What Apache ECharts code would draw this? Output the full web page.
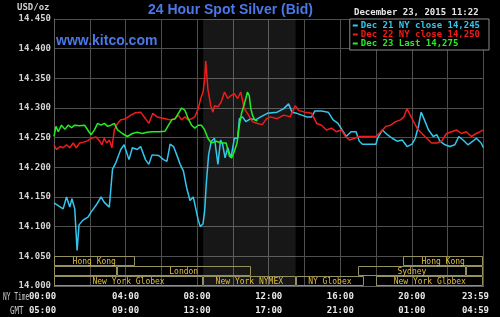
<!DOCTYPE html>
<html>
<head>
<meta charset="utf-8">
<script src="https://cdn.jsdelivr.net/npm/echarts@6/dist/echarts.min.js"></script>
<style>
html,body{margin:0;padding:0;background:#000;}
#chart{width:500px;height:317px;}
</style>
</head>
<body>
<div id="chart"></div>
<script>
// ---- Data (hours since NY midnight, price USD/oz) ----
const seriesNames = ['Dec 21 NY close 14,245', 'Dec 22 NY close 14,250', 'Dec 23 Last 14,275'];

const dec21Hours = [0,0.51,0.70,0.88,1.00,1.16,1.29,1.40,1.62,1.90,2.08,2.35,2.63,2.81,3.09,3.27,3.46,3.73,3.92,4.19,4.38,4.65,4.84,5.11,5.30,5.48,5.85,6.12,6.31,6.49,6.68,6.86,7.05,7.23,7.41,7.60,7.78,7.87,8.06,8.18,8.33,8.42,8.51,8.64,8.79,8.97,9.16,9.31,9.43,9.56,9.71,9.89,10.08,10.26,10.36,10.54,10.72,11.00,11.27,11.55,11.92,12.47,12.84,13.11,13.30,13.57,13.85,14.12,14.40,14.58,14.95,15.32,15.60,15.87,16.10,16.33,16.60,16.88,17.06,17.24,17.99,18.08,18.35,18.63,18.90,19.18,19.46,19.73,20.01,20.19,20.38,20.52,20.74,20.93,21.20,21.39,21.57,21.85,22.12,22.40,22.62,22.86,23.13,23.41,23.60,23.87,24.00];
const dec21Values = [14.140,14.130,14.150,14.133,14.147,14.130,14.060,14.103,14.111,14.116,14.125,14.136,14.150,14.141,14.133,14.197,14.208,14.230,14.238,14.213,14.233,14.230,14.235,14.213,14.205,14.221,14.220,14.213,14.210,14.239,14.235,14.221,14.205,14.194,14.166,14.144,14.150,14.138,14.111,14.100,14.105,14.127,14.172,14.221,14.244,14.249,14.205,14.246,14.238,14.216,14.233,14.216,14.249,14.249,14.282,14.285,14.277,14.282,14.280,14.285,14.291,14.293,14.299,14.307,14.293,14.291,14.288,14.285,14.285,14.295,14.295,14.293,14.280,14.274,14.263,14.252,14.260,14.260,14.244,14.239,14.239,14.249,14.263,14.255,14.249,14.244,14.246,14.235,14.239,14.249,14.271,14.293,14.277,14.263,14.252,14.255,14.244,14.238,14.235,14.238,14.252,14.246,14.238,14.244,14.249,14.241,14.233];

const dec22Hours = [0,0.15,0.33,0.51,0.70,0.88,1.07,1.25,1.43,1.62,1.90,2.08,2.35,2.54,2.68,2.81,2.94,3.09,3.24,3.37,3.55,3.73,4.01,4.29,4.56,4.84,5.11,5.30,5.52,5.76,6.21,6.49,6.77,6.95,7.13,7.32,7.50,7.69,7.87,8.06,8.20,8.33,8.42,8.48,8.60,8.76,8.88,8.97,9.16,9.34,9.53,9.71,9.89,10.08,10.26,10.44,10.63,10.81,11.09,11.37,11.64,11.88,12.10,12.47,12.84,13.20,13.48,13.67,14.03,14.40,14.68,14.95,15.23,15.50,15.78,16.06,16.29,16.51,16.79,17.06,17.99,18.26,18.54,18.81,19.09,19.37,19.55,19.73,19.86,20.01,20.29,20.56,20.83,21.10,21.39,21.66,21.94,22.22,22.49,22.77,23.04,23.32,23.60,23.87,24.00];
const dec22Values = [14.238,14.230,14.235,14.233,14.238,14.233,14.241,14.233,14.241,14.242,14.245,14.249,14.251,14.245,14.238,14.249,14.241,14.246,14.233,14.263,14.274,14.280,14.282,14.288,14.292,14.293,14.282,14.274,14.291,14.285,14.282,14.280,14.282,14.288,14.280,14.285,14.280,14.282,14.285,14.299,14.316,14.327,14.349,14.379,14.332,14.304,14.293,14.304,14.302,14.310,14.327,14.316,14.321,14.324,14.316,14.327,14.299,14.291,14.277,14.274,14.272,14.282,14.285,14.282,14.288,14.285,14.304,14.296,14.293,14.291,14.274,14.271,14.263,14.266,14.260,14.263,14.252,14.246,14.249,14.252,14.252,14.260,14.269,14.271,14.277,14.280,14.285,14.299,14.291,14.282,14.266,14.257,14.249,14.241,14.241,14.244,14.257,14.260,14.263,14.257,14.260,14.252,14.257,14.261,14.263];

const dec23Hours = [0,0.11,0.24,0.42,0.61,0.79,0.98,1.16,1.43,1.71,1.95,2.08,2.26,2.44,2.63,2.81,3.00,3.18,3.37,3.55,3.82,4.10,4.38,4.65,4.93,5.20,5.48,5.85,6.21,6.40,6.58,6.77,6.95,7.13,7.32,7.50,7.69,7.87,8.06,8.24,8.42,8.60,8.79,9.07,9.34,9.62,9.80,9.93,10.08,10.23,10.36,10.48,10.59,10.72,10.81,10.91,11.00,11.09,11.22,11.37];
const dec23Values = [14.252,14.269,14.260,14.271,14.264,14.271,14.267,14.271,14.270,14.271,14.260,14.255,14.263,14.274,14.271,14.274,14.269,14.271,14.274,14.263,14.257,14.252,14.257,14.259,14.257,14.259,14.260,14.260,14.261,14.271,14.280,14.282,14.291,14.300,14.296,14.282,14.271,14.266,14.271,14.271,14.263,14.249,14.241,14.244,14.241,14.241,14.219,14.216,14.227,14.241,14.271,14.291,14.302,14.316,14.327,14.321,14.299,14.288,14.280,14.278];

// Trading sessions (row 0 = top band, row 2 = bottom band)
const sessionNames = ['Hong Kong','Hong Kong','','London','Sydney','','New York Globex','New York NYMEX','NY Globex','New York Globex'];
const sessionStart = [0,19.5,0,3.5,17,23,0,8.333,13.5,18];
const sessionEnd   = [4.5,24,3.5,11,23,24,8.333,13.5,17.33,24];
const sessionRow   = [0,0,1,1,1,1,2,2,2,2];

// NYMEX pit hours shading
const nymexStart = 8.333, nymexEnd = 13.5;

// Axis ticks
const tickHours = [0,4,8,12,16,20,24];
const nyLabels  = ['00:00','04:00','08:00','12:00','16:00','20:00','23:59'];
const gmtLabels = ['05:00','09:00','13:00','17:00','21:00','01:00','04:59'];

// ---- Chart ----
const mono = 'DejaVu Sans Mono';
const colors = ['#33c6ee', '#f01c1c', '#22ee22'];
const rowBands = [[14.03333,14.05],[14.01667,14.03333],[14.0,14.01667]];

function pairs(h, v){ return h.map((x,i)=>[x, v[i]]); }

const chart = echarts.init(document.getElementById('chart'), null, {renderer:'canvas'});
const option = {
  backgroundColor: '#000',
  animation: false,
  title: [
    {text:'24 Hour Spot Silver (Bid)', left:148, top:3, padding:0,
     textStyle:{color:'#4a78e6', fontFamily:'Liberation Sans', fontWeight:'bold', fontSize:14}},
    {text:'www.kitco.com', left:56, top:34, padding:0,
     textStyle:{color:'#4a78e6', fontFamily:'Liberation Sans', fontWeight:'bold', fontSize:14}},
    {text:'December 23, 2015 11:22', left:354, top:8, padding:0,
     textStyle:{color:'#e6e6e6', fontFamily:mono, fontWeight:'bold', fontSize:9}},
    {text:'USD/oz', left:17, top:3, padding:0,
     textStyle:{color:'#d0d0d0', fontFamily:mono, fontWeight:'bold', fontSize:9}}
  ],
  graphic: [
    {type:'text', x:3, y:292, scaleX:0.62, style:{text:'NY Time', fill:'#c8c8c8', font:'10px ' + mono}},
    {type:'text', x:10, y:306, scaleX:0.75, style:{text:'GMT', fill:'#c8c8c8', font:'10px ' + mono}}
  ],
  legend: {
    orient:'vertical', right:11, top:19,
    backgroundColor:'#000', borderColor:'#8a8a8a', borderWidth:1,
    padding:[2,9,2,3], itemGap:0, itemWidth:5, itemHeight:2, icon:'rect',
    data: seriesNames,
    formatter: function(name){ const i = seriesNames.indexOf(name); return '{c' + i + '|' + name + '}'; },
    textStyle: {
      padding:[0,0,0,-2],
      rich: {
        c0:{color:colors[0], fontFamily:mono, fontWeight:'bold', fontSize:9, lineHeight:10},
        c1:{color:colors[1], fontFamily:mono, fontWeight:'bold', fontSize:9, lineHeight:10},
        c2:{color:colors[2], fontFamily:mono, fontWeight:'bold', fontSize:9, lineHeight:10}
      }
    }
  },
  grid: {left:54, right:11, top:19, bottom:27, containLabel:false},
  xAxis: {
    type:'value', min:0, max:24, interval:2,
    axisLine:{show:true, lineStyle:{color:'#606060'}},
    axisTick:{show:false},
    splitLine:{show:true, lineStyle:{color:'#4e4e4e', width:1}},
    axisLabel:{
      margin:4, showMinLabel:true, showMaxLabel:true,
      formatter: function(v){
        const i = tickHours.indexOf(v);
        if (i < 0) return '';
        let pad = '';
        if (i === 0) pad = '{p0|}';
        if (i === tickHours.length-1) pad = '{p1|}';
        return '{a|' + nyLabels[i] + '}' + pad + '\n{b|' + gmtLabels[i] + '}' + pad;
      },
      rich: {
        a:{color:'#e8e8e8', fontFamily:mono, fontWeight:'bold', fontSize:9, lineHeight:14},
        b:{color:'#e8e8e8', fontFamily:mono, fontWeight:'bold', fontSize:9, lineHeight:14},
        p0:{width:23},
        p1:{width:16}
      }
    }
  },
  yAxis: {
    type:'value', min:14.0, max:14.45, interval:0.05,
    axisLine:{show:true, lineStyle:{color:'#606060'}},
    axisTick:{show:false},
    splitLine:{show:true, lineStyle:{color:'#4e4e4e', width:1}},
    axisLabel:{
      margin:3, color:'#d4d4d4', fontFamily:mono, fontWeight:'bold', fontSize:9,
      formatter: v => v.toFixed(3)
    }
  },
  series: [
    {
      type:'custom', name:'sessions', silent:true, clip:false, z:1,
      data: sessionStart.map((s,i)=>[s, sessionEnd[i], sessionRow[i], i]),
      encode:{x:[0,1], y:2},
      markArea:{silent:true, itemStyle:{color:'rgba(255,255,255,0.09)'},
        data:[[{xAxis:nymexStart},{xAxis:nymexEnd}]]},
      renderItem: function(params, api){
        const s = api.value(0), e = api.value(1), row = api.value(2), idx = api.value(3);
        const band = rowBands[row];
        const p0 = api.coord([s, band[1]]);
        const p1 = api.coord([e, band[0]]);
        const x0 = Math.round(p0[0]) + 0.5, y0 = Math.round(p0[1]) + 0.5;
        const w = Math.round(p1[0]) - Math.round(p0[0]) - 1, h = Math.round(p1[1]) - Math.round(p0[1]) - 1;
        return {type:'group', children:[
          {type:'rect', shape:{x:x0, y:y0, width:w, height:h}, style:{fill:'none', stroke:'#968f5e', lineWidth:1}},
          {type:'text', style:{text:sessionNames[idx], x:(p0[0]+p1[0])/2, y:(p0[1]+p1[1])/2 + 0.5,
            align:'center', verticalAlign:'middle', fill:'#e2bf3c', font:'8px ' + mono}}
        ]};
      }
    },
    {type:'line', name:seriesNames[0], data:pairs(dec21Hours, dec21Values), showSymbol:false,
     lineStyle:{color:colors[0], width:1.5}, itemStyle:{color:colors[0]}, z:3},
    {type:'line', name:seriesNames[1], data:pairs(dec22Hours, dec22Values), showSymbol:false,
     lineStyle:{color:colors[1], width:1.5}, itemStyle:{color:colors[1]}, z:3},
    {type:'line', name:seriesNames[2], data:pairs(dec23Hours, dec23Values), showSymbol:false,
     lineStyle:{color:colors[2], width:1.5}, itemStyle:{color:colors[2]}, z:3}
  ]
};
chart.setOption(option);
</script>
</body>
</html>
